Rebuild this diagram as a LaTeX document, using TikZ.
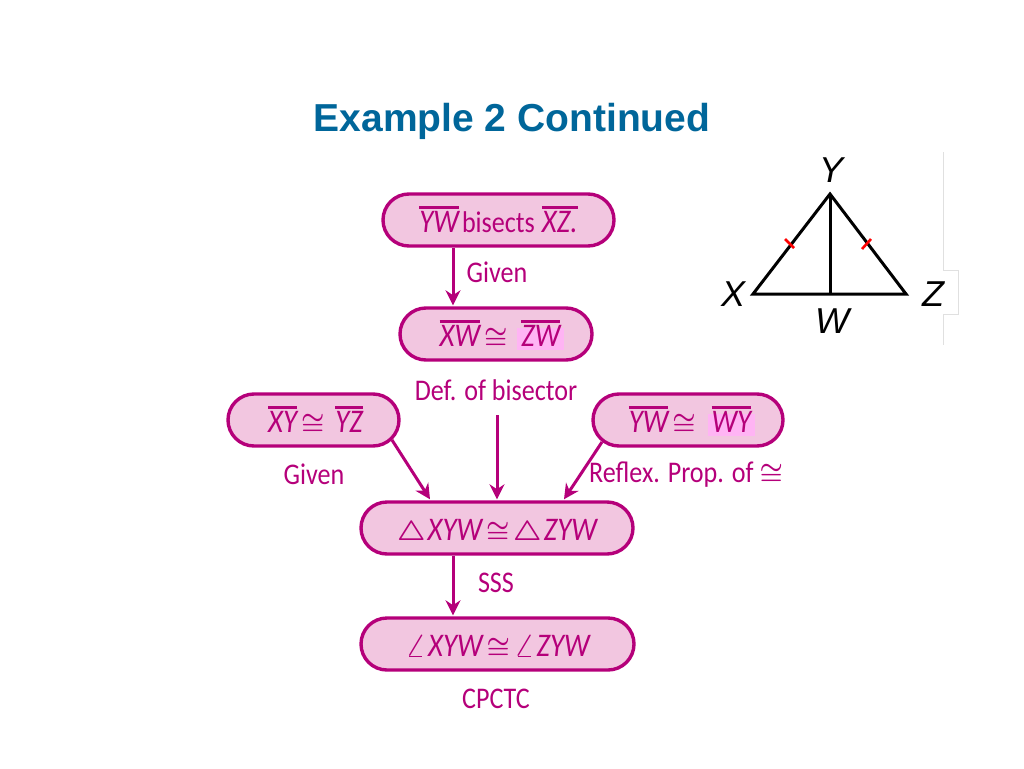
\documentclass[tikz,border=0pt]{standalone}
\usepackage{fontspec}
\usepackage{graphicx}
\setmainfont[FakeStretch=0.87]{Carlito}
\newfontfamily\titlefont{Liberation Sans}
\usetikzlibrary{shapes.misc,arrows.meta}
\definecolor{proofline}{HTML}{B5007A}
\definecolor{prooffill}{HTML}{F2C6E0}
\definecolor{markfill}{HTML}{FFB4F4}
\definecolor{titleblue}{HTML}{00669A}
\newbox\segbox
\newcommand{\pts}[1]{{\fontsize{33}{34}\selectfont\itshape #1}}
\newcommand{\seg}[1]{\setbox\segbox=\hbox{\pts{#1}}\smash{\rlap{\rule[24pt]{\wd\segbox}{2.4pt}}}\box\segbox}
\newcommand{\markseg}[1]{\setbox\segbox=\hbox{\pts{#1}}\smash{\rlap{\kern-4pt\textcolor{markfill}{\rule[-3pt]{\dimexpr\wd\segbox+8pt\relax}{22pt}}}\rlap{\rule[24pt]{\wd\segbox}{2.4pt}}}\box\segbox}
\newcommand{\congmark}{\raisebox{-1pt}{\scalebox{1.05}{\boldmath$\cong$}}}
\newcommand{\congsym}{\kern4pt\congmark\kern4pt}
\newcommand{\trisym}{\scalebox{1.12}{\boldmath$\triangle$}\kern2pt}
\newcommand{\angsym}{\scalebox{1.12}{\boldmath$\angle$}\kern2pt}
\tikzset{
  proofbox/.style={rounded rectangle,draw=proofline,fill=prooffill,line width=3.4pt,
    inner sep=0pt,minimum height=52pt,text=proofline,text height=25pt,text depth=0pt,font=\fontsize{30}{32}\selectfont},
  reason/.style={text=proofline,inner sep=0pt,font=\fontsize{30}{32}\selectfont},
  proofarrow/.style={draw=proofline,line width=3pt,-{Stealth[length=15pt,width=15pt]}},
  vertex/.style={inner sep=0pt,font=\fontsize{36}{38}\selectfont\titlefont\itshape},
}
\begin{document}
\begin{tikzpicture}[x=1pt,y=-1pt]
\useasboundingbox (0,0) rectangle (1024,768);

\node[inner sep=0pt,text=titleblue,font=\fontsize{39}{42}\selectfont\titlefont\bfseries] (title) at (512,121) {Example 2 Continued};

\node[proofbox,minimum width=231pt] (bisect) at (498.5,220) {\seg{YW}\kern3pt bisects\kern7pt\seg{XZ.}};
\node[proofbox,minimum width=192pt] (xwzw) at (496,334) {\kern8pt\seg{XW}\congsym\kern10pt\markseg{ZW}};
\node[proofbox,minimum width=171pt] (xyyz) at (313.5,420) {\kern4pt\seg{XY}\congsym\kern7pt\seg{YZ}};
\node[proofbox,minimum width=190pt] (ywwy) at (688,420) {\kern4pt\seg{YW}\congsym\kern12pt\markseg{WY}};
\node[proofbox,minimum width=272pt] (tri) at (497,528) {\trisym\pts{XYW}\congsym\trisym\pts{ZYW}};
\node[proofbox,minimum width=273pt] (ang) at (497.5,644) {\angsym\pts{XYW}\congsym\angsym\pts{ZYW}};

\node[reason] (given1) at (497,272) {Given};
\node[reason] (defbis) at (496,390) {Def. of bisector};
\node[reason] (given2) at (314,474) {Given};
\node[reason] (reflex) at (686,475) {Reflex. Prop. of \congmark};
\node[reason] (sss) at (496,583) {SSS};
\node[reason] (cpctc) at (496,699) {CPCTC};

\coordinate (defend) at (497,415);
\draw[proofarrow] ([xshift=-45.5pt]bisect.south) -- ([xshift=-43pt,yshift=1pt]xwzw.north);
\draw[proofarrow] (defend) -- ([yshift=1pt]tri.north);
\draw[proofarrow] ([xshift=78.5pt,yshift=-20pt]xyyz.center) -- ([xshift=-67pt,yshift=1pt]tri.north);
\draw[proofarrow] ([xshift=-86pt,yshift=-22pt]ywwy.center) -- ([xshift=67pt,yshift=1pt]tri.north);
\draw[proofarrow] ([xshift=-44pt]tri.south) -- ([xshift=-44.5pt,yshift=1pt]ang.north);

% triangle
\coordinate (Y) at (830,194);
\coordinate (X) at (753,294);
\coordinate (Z) at (906,294);
\coordinate (W) at (830,294);
\draw[line width=3pt,line join=miter] (X) -- (Y) -- (Z) -- cycle;
\draw[line width=3pt] (Y) -- (W);
\draw[red,line width=2.6pt] (785,239) -- (794,248);
\draw[red,line width=2.6pt] (862,249) -- (871,239);
\node[vertex] (lY) at (831,170) {Y};
\node[vertex] (lX) at (733,294) {X};
\node[vertex] (lZ) at (933,294) {Z};
\node[vertex] (lW) at (832,321) {W};

\draw[black!12,line width=1pt] (943,152) -- (943,270) -- (958.5,270) -- (958.5,314) -- (943,314) -- (943,345);
\end{tikzpicture}
\end{document}
